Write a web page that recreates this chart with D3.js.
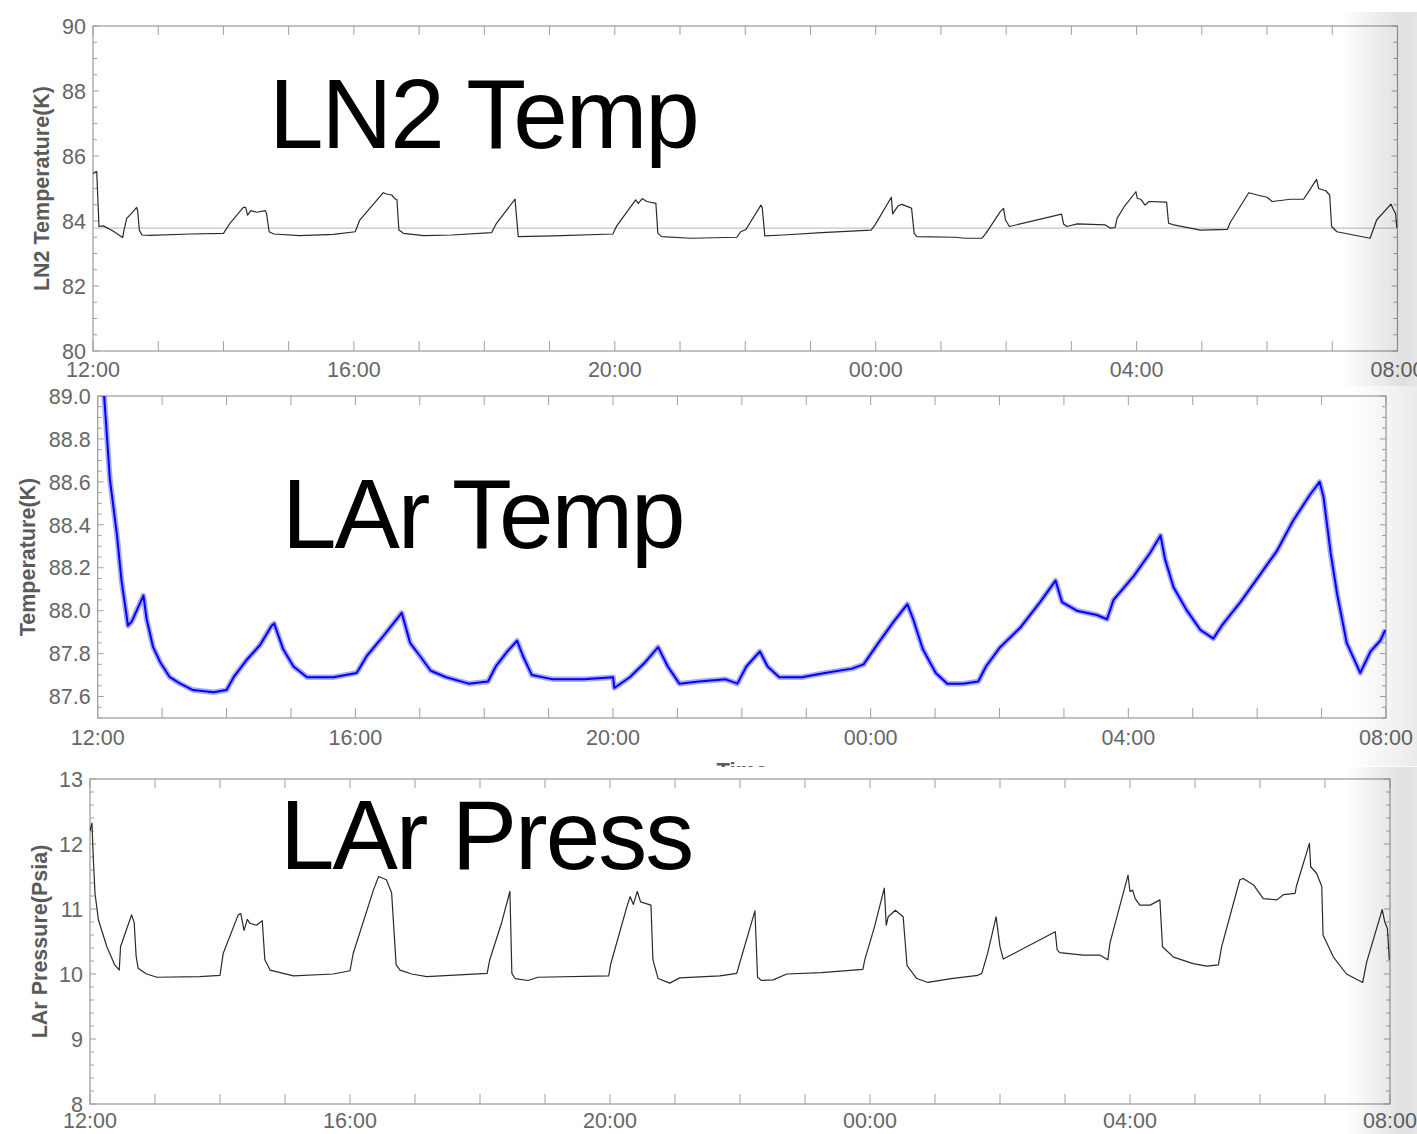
<!DOCTYPE html>
<html><head><meta charset="utf-8">
<script src="https://cdn.jsdelivr.net/npm/d3@7"></script>
<style>body{margin:0;background:#fff;} svg{display:block;}</style>
</head><body>
<svg id="chart" width="1417" height="1134"></svg>
<script>
// ---------------- DATA ----------------
const startTime = new Date(2020, 0, 1, 12, 0, 0);
const endTime = new Date(2020, 0, 2, 8, 0, 0);
const xTickLabels = ["12:00", "16:00", "20:00", "00:00", "04:00", "08:00"];

const titles = ["LN2 Temp", "LAr Temp", "LAr Press"];
const yAxisTitles = ["LN2 Temperature(K)", "Temperature(K)", "LAr Pressure(Psia)"];
const xAxisTitle = "Time";

// hours after 12:00
const ln2Hours = [0.00,0.02,0.057,0.092,0.16,0.30,0.455,0.475,0.517,0.594,0.670,0.686,0.71,0.75,0.87,1.5,2.0,2.10,2.305,2.34,2.37,2.42,2.51,2.64,2.66,2.70,2.77,3.17,3.69,4.02,4.09,4.45,4.50,4.58,4.63,4.66,4.69,4.76,5.07,5.5,6.11,6.18,6.47,6.52,7.06,7.97,8.03,8.32,8.36,8.42,8.49,8.63,8.66,8.72,9.17,9.87,9.93,10.01,10.24,10.26,10.30,10.58,11.17,11.93,11.99,12.24,12.26,12.34,12.40,12.52,12.55,12.59,12.63,13.22,13.37,13.63,13.69,13.91,13.96,13.99,14.05,14.85,14.88,14.93,15.09,15.52,15.60,15.67,15.70,15.81,15.99,16.01,16.06,16.13,16.19,16.46,16.49,16.57,16.98,17.39,17.44,17.72,17.85,18.00,18.08,18.36,18.56,18.76,18.79,18.90,18.96,18.99,19.07,19.58,19.68,19.90,19.94,19.97,19.99];
const ln2Values = [85.45,85.49,85.52,83.83,83.85,83.70,83.49,83.72,84.08,84.24,84.42,84.30,83.72,83.57,83.56,83.60,83.62,83.93,84.42,84.42,84.18,84.32,84.27,84.32,84.24,83.67,83.60,83.55,83.59,83.67,84.03,84.87,84.83,84.80,84.68,84.66,83.72,83.62,83.55,83.57,83.64,83.91,84.67,83.52,83.54,83.60,83.85,84.65,84.54,84.69,84.60,84.54,83.62,83.52,83.47,83.50,83.67,83.74,84.49,84.42,83.54,83.57,83.64,83.72,83.88,84.73,84.22,84.46,84.51,84.42,84.39,83.62,83.52,83.50,83.47,83.47,83.62,84.29,84.39,84.03,83.83,84.21,83.91,83.83,83.91,83.88,83.78,83.80,84.08,84.44,84.90,84.70,84.67,84.49,84.60,84.58,83.93,83.88,83.72,83.74,83.97,84.87,84.80,84.73,84.60,84.67,84.67,85.28,85.00,84.93,84.80,83.83,83.67,83.47,84.03,84.52,84.34,84.24,83.78];
const ln2Reference = 83.78;

const larTempHours = [0.02,0.10,0.19,0.30,0.37,0.47,0.53,0.68,0.71,0.76,0.86,0.97,1.12,1.28,1.48,1.80,2.00,2.11,2.31,2.52,2.70,2.74,2.88,3.04,3.25,3.66,4.02,4.18,4.43,4.72,4.85,5.00,5.17,5.41,5.76,6.06,6.18,6.36,6.51,6.60,6.74,7.07,7.55,8.00,8.02,8.26,8.50,8.70,8.85,9.03,9.33,9.75,9.93,10.07,10.28,10.40,10.58,10.93,11.29,11.71,11.89,12.12,12.36,12.57,12.66,12.81,13.01,13.19,13.43,13.67,13.79,14.01,14.32,14.63,14.87,14.97,15.20,15.51,15.67,15.77,16.08,16.34,16.50,16.57,16.70,16.91,17.12,17.32,17.45,17.74,18.05,18.31,18.56,18.82,18.97,19.03,19.14,19.24,19.39,19.60,19.76,19.91,19.99];
const larTempValues = [89.40,89.00,88.61,88.35,88.14,87.93,87.95,88.05,88.07,87.96,87.83,87.76,87.69,87.66,87.63,87.62,87.63,87.69,87.77,87.84,87.93,87.94,87.82,87.74,87.69,87.69,87.71,87.79,87.88,87.99,87.85,87.79,87.72,87.69,87.66,87.67,87.74,87.81,87.86,87.79,87.70,87.68,87.68,87.69,87.64,87.69,87.76,87.83,87.74,87.66,87.67,87.68,87.66,87.74,87.81,87.74,87.69,87.69,87.71,87.73,87.75,87.85,87.95,88.03,87.96,87.82,87.71,87.66,87.66,87.67,87.74,87.83,87.92,88.04,88.14,88.04,88.00,87.98,87.96,88.05,88.16,88.27,88.35,88.24,88.11,88.00,87.91,87.87,87.93,88.04,88.17,88.28,88.42,88.54,88.60,88.53,88.27,88.08,87.85,87.71,87.81,87.86,87.91];

const larPressHours = [0.00,0.03,0.05,0.077,0.13,0.26,0.38,0.45,0.47,0.56,0.64,0.68,0.71,0.74,0.87,1.03,1.69,2.00,2.05,2.28,2.32,2.37,2.42,2.46,2.56,2.65,2.69,2.77,3.13,3.74,4.00,4.05,4.36,4.44,4.56,4.64,4.71,4.77,4.95,5.18,6.11,6.15,6.33,6.46,6.49,6.54,6.74,6.89,7.98,8.01,8.27,8.31,8.36,8.42,8.47,8.63,8.66,8.74,8.92,9.07,9.69,9.95,9.99,10.23,10.27,10.33,10.51,10.72,11.25,11.89,11.92,12.07,12.22,12.25,12.28,12.39,12.51,12.57,12.72,12.89,13.25,13.66,13.72,13.81,13.94,14.00,14.05,14.85,14.88,14.92,15.28,15.54,15.66,15.69,15.97,16.00,16.04,16.08,16.15,16.31,16.46,16.50,16.67,16.97,17.18,17.36,17.41,17.69,17.74,17.90,18.05,18.26,18.36,18.54,18.56,18.76,18.78,18.87,18.95,18.97,19.13,19.33,19.58,19.64,19.88,19.92,19.96,19.99];
const larPressValues = [12.20,12.32,11.80,11.24,10.83,10.42,10.14,10.06,10.42,10.68,10.91,10.79,10.27,10.09,10.00,9.95,9.96,9.98,10.32,10.91,10.93,10.67,10.84,10.78,10.75,10.82,10.22,10.06,9.97,10.00,10.05,10.32,11.29,11.50,11.45,11.25,10.14,10.06,10.00,9.96,10.01,10.22,10.78,11.27,10.01,9.93,9.90,9.95,9.97,10.15,11.07,11.19,11.07,11.27,11.11,11.06,10.22,9.93,9.86,9.94,9.97,10.01,10.15,10.97,9.95,9.90,9.91,10.00,10.02,10.07,10.22,10.73,11.32,10.75,10.88,10.98,10.88,10.13,9.93,9.87,9.93,9.98,10.01,10.32,10.88,10.42,10.23,10.65,10.37,10.33,10.29,10.29,10.22,10.47,11.52,11.27,11.29,11.16,11.06,11.06,11.14,10.42,10.26,10.16,10.12,10.14,10.42,11.45,11.47,11.37,11.16,11.14,11.22,11.24,11.35,12.01,11.65,11.55,11.35,10.60,10.26,10.00,9.87,10.18,10.99,10.80,10.70,10.22];

const ln2YTicks = [80, 82, 84, 86, 88, 90];
const larTempYTicks = [87.6, 87.8, 88.0, 88.2, 88.4, 88.6, 88.8, 89.0];
const larPressYTicks = [8, 9, 10, 11, 12, 13];

// ---------------- DRAW ----------------
const svg = d3.select("#chart");
const FONT = "'Liberation Sans', Arial, Helvetica, sans-serif";
const hourMs = 3600 * 1000;
const toDate = h => new Date(startTime.getTime() + h * hourMs);

const panels = [
  { box: {l: 93, r: 1397.5, t: 26, b: 351}, domain: [80, 90], minor: 0.5, yTicks: ln2YTicks, fmt: d3.format("d"),
    hours: ln2Hours, values: ln2Values, title: titles[0], titleX: 269, titleY: 148,
    yTitle: yAxisTitles[0], yTitleX: 41, xLabelDy: 26, ref: ln2Reference, kind: "black" },
  { box: {l: 97.7, r: 1386, t: 396, b: 718}, domain: [87.5, 89.0], minor: 0.05, yTicks: larTempYTicks, fmt: d3.format(".1f"),
    hours: larTempHours, values: larTempValues, title: titles[1], titleX: 282, titleY: 548,
    yTitle: yAxisTitles[1], yTitleX: 27, xLabelDy: 27, kind: "blue" },
  { box: {l: 90, r: 1390, t: 779, b: 1104}, domain: [8, 13], minor: 0.2, yTicks: larPressYTicks, fmt: d3.format("d"),
    hours: larPressHours, values: larPressValues, title: titles[2], titleX: 280, titleY: 869,
    yTitle: yAxisTitles[2], yTitleX: 39, xLabelDy: 24, kind: "black" }
];

const defs = svg.append("defs");

function drawPanel(p, i) {
  const g = svg.append("g");
  const {l, r, t, b} = p.box;
  const x = d3.scaleTime().domain([startTime, endTime]).range([l, r]);
  const y = d3.scaleLinear().domain(p.domain).range([b, t]);

  defs.append("clipPath").attr("id", "clip" + i)
    .append("rect").attr("x", l).attr("y", t).attr("width", r - l).attr("height", b - t);

  // frame
  g.append("rect").attr("x", l).attr("y", t).attr("width", r - l).attr("height", b - t)
    .attr("fill", "none").attr("stroke", "#9a9a9a").attr("stroke-width", 1.2);

  // x ticks every hour (top & bottom)
  const hourTicks = x.ticks(d3.timeHour.every(1));
  g.selectAll(".xt").data(hourTicks).join("line")
    .attr("x1", d => x(d)).attr("x2", d => x(d)).attr("y1", t).attr("y2", t + 9)
    .attr("stroke", "#a0a0a0").attr("stroke-width", 1);
  g.selectAll(".xb").data(hourTicks).join("line")
    .attr("x1", d => x(d)).attr("x2", d => x(d)).attr("y1", b).attr("y2", b - 10)
    .attr("stroke", "#a0a0a0").attr("stroke-width", 1);

  // y ticks (minor + major) on both sides
  const n = Math.round((p.domain[1] - p.domain[0]) / p.minor);
  const yt = d3.range(n + 1).map(k => p.domain[0] + k * p.minor);
  const isMajor = v => p.yTicks.some(m => Math.abs(m - v) < 1e-6);
  g.selectAll(".yl").data(yt).join("line")
    .attr("x1", l).attr("x2", v => l + (isMajor(v) ? 6 : 4))
    .attr("y1", v => y(v)).attr("y2", v => y(v))
    .attr("stroke", "#a0a0a0").attr("stroke-width", 1);
  g.selectAll(".yr").data(yt).join("line")
    .attr("x1", r).attr("x2", v => r - (isMajor(v) ? 6 : 4))
    .attr("y1", v => y(v)).attr("y2", v => y(v))
    .attr("stroke", "#a0a0a0").attr("stroke-width", 1);

  // y tick labels
  g.selectAll(".ylab").data(p.yTicks).join("text")
    .attr("x", l - 7).attr("y", v => y(v)).attr("dy", "0.36em")
    .attr("text-anchor", "end").attr("font-family", FONT).attr("font-size", 21.5)
    .attr("fill", "#666").text(v => p.fmt(v));

  // x tick labels
  g.selectAll(".xlab").data(xTickLabels).join("text")
    .attr("x", (d, k) => x(toDate(k * 4))).attr("y", b + p.xLabelDy)
    .attr("text-anchor", "middle").attr("font-family", FONT).attr("font-size", 21.5)
    .attr("fill", "#666").text(d => d);

  // y axis title
  g.append("text").attr("transform", `translate(${p.yTitleX},${(t + b) / 2}) rotate(-90)`)
    .attr("dy", "0.35em").attr("text-anchor", "middle")
    .attr("font-family", FONT).attr("font-weight", "bold").attr("font-size", 21.5)
    .attr("fill", "#5a5a5a").text(p.yTitle);

  // reference line
  if (p.ref !== undefined) {
    g.append("line").attr("x1", l).attr("x2", r).attr("y1", y(p.ref)).attr("y2", y(p.ref))
      .attr("stroke", "#c4c4c4").attr("stroke-width", 1.3);
  }

  // data line
  const pts = p.hours.map((h, k) => ({t: toDate(h), v: p.values[k]}));
  const line = d3.line().x(d => x(d.t)).y(d => y(d.v));
  const lg = g.append("g").attr("clip-path", `url(#clip${i})`);
  if (p.kind === "blue") {
    lg.append("path").datum(pts).attr("d", line).attr("fill", "none")
      .attr("stroke", "#3d3dff").attr("stroke-opacity", 0.45).attr("stroke-width", 5.5)
      .attr("stroke-linejoin", "round");
    lg.append("path").datum(pts).attr("d", line).attr("fill", "none")
      .attr("stroke", "#0000ff").attr("stroke-width", 2).attr("stroke-linejoin", "round");
  } else {
    lg.append("path").datum(pts).attr("d", line).attr("fill", "none")
      .attr("stroke", "#2a2a2a").attr("stroke-width", 1.2).attr("stroke-linejoin", "round");
  }

  // big title
  g.append("text").attr("x", p.titleX).attr("y", p.titleY)
    .attr("font-family", FONT).attr("font-size", 98).attr("letter-spacing", -2.0)
    .attr("fill", "#000").text(p.title);

  return {x, y};
}

drawPanel(panels[0], 0);
drawPanel(panels[1], 1);

// partially visible x axis title of the middle panel
svg.append("text").attr("x", 742).attr("y", 778).attr("text-anchor", "middle")
  .attr("font-family", FONT).attr("font-weight", "bold").attr("font-size", 22)
  .attr("fill", "#5a5a5a").text(xAxisTitle);
svg.append("rect").attr("x", 0).attr("y", 767).attr("width", 1417).attr("height", 367).attr("fill", "#fff");

drawPanel(panels[2], 2);

// right edge shading (screenshot vignette)
const grad = defs.append("linearGradient").attr("id", "edge").attr("x1", "0").attr("x2", "1").attr("y1", "0").attr("y2", "0");
grad.append("stop").attr("offset", "0%").attr("stop-color", "#000").attr("stop-opacity", 0);
grad.append("stop").attr("offset", "80%").attr("stop-color", "#000").attr("stop-opacity", 0.12);
grad.append("stop").attr("offset", "100%").attr("stop-color", "#000").attr("stop-opacity", 0.10);
const grad2 = defs.append("linearGradient").attr("id", "edge2").attr("x1", "0").attr("x2", "1").attr("y1", "0").attr("y2", "0");
grad2.append("stop").attr("offset", "0%").attr("stop-color", "#000").attr("stop-opacity", 0);
grad2.append("stop").attr("offset", "100%").attr("stop-color", "#000").attr("stop-opacity", 0.08);
svg.append("rect").attr("x", 1340).attr("y", 12).attr("width", 77).attr("height", 374).attr("fill", "url(#edge)");
svg.append("rect").attr("x", 1350).attr("y", 386).attr("width", 67).attr("height", 380).attr("fill", "url(#edge2)");
svg.append("rect").attr("x", 1345).attr("y", 767).attr("width", 72).attr("height", 367).attr("fill", "url(#edge)");
</script>
</body></html>
